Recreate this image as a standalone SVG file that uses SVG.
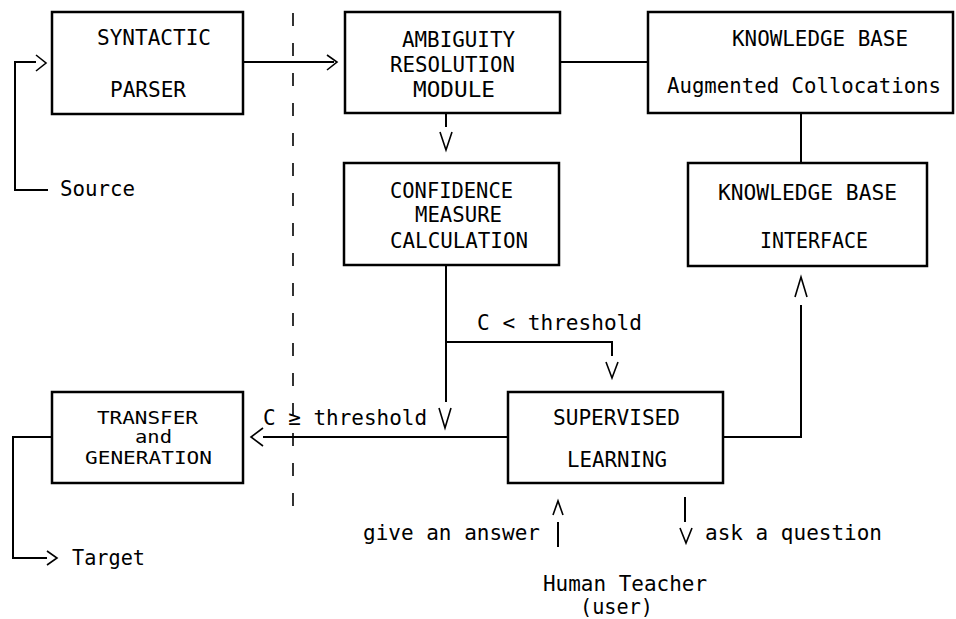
<svg xmlns="http://www.w3.org/2000/svg" width="956" height="619" viewBox="0 0 956 619">
<style>
.box{fill:#fff;stroke:#000;stroke-width:2.5}
.ln{fill:none;stroke:#000;stroke-width:2}
.ah{fill:none;stroke:#000;stroke-width:1.6}
.dash{fill:none;stroke:#000;stroke-width:1.6;stroke-dasharray:13 17}
text{font-family:"DejaVu Sans Mono","Liberation Mono",monospace;font-size:22px;fill:#000}
text.sm{font-size:18px}
text.md{font-size:20.5px}
</style>
<rect width="956" height="619" fill="#fff"/>
<g id="connectors">
  <line class="dash" x1="293" y1="13" x2="293" y2="520"/>
  <polyline class="ln" points="48,190 15,190 15,62 36,62"/>
  <polyline class="ah" points="36,55 46,63 36,71"/>
  <line class="ln" x1="243" y1="62" x2="334" y2="62"/>
  <polyline class="ah" points="327,55 337,62 327,70"/>
  <line class="ln" x1="560" y1="62" x2="648" y2="62"/>
  <line class="ln" x1="446" y1="113" x2="446" y2="127"/>
  <polyline class="ah" points="440,132 446,150 452,132"/>
  <line class="ln" x1="801" y1="113" x2="801" y2="163"/>
  <line class="ln" x1="446" y1="265" x2="446" y2="402"/>
  <polyline class="ah" points="439,408 445,428 451,408"/>
  <polyline class="ln" points="446,342 612,342 612,356"/>
  <polyline class="ah" points="606,362 612,378 618,362"/>
  <line class="ln" x1="263" y1="437" x2="508" y2="437"/>
  <polyline class="ah" points="263,428 251,437 263,446"/>
  <polyline class="ln" points="52,437 13,437 13,558 47,558"/>
  <polyline class="ah" points="47,551 57,558 47,565"/>
  <polyline class="ln" points="723,437 801,437 801,305"/>
  <polyline class="ah" points="795,297 801,277 807,297"/>
  <polyline class="ah" points="553,515 558,501 563,515"/>
  <line class="ln" x1="558" y1="522" x2="558" y2="547"/>
  <line class="ln" x1="685" y1="497" x2="685" y2="522"/>
  <polyline class="ah" points="680,528 686,543 692,528"/>
</g>
<g id="syntactic">
  <rect class="box" x="52" y="12" width="191" height="102"/>
  <text x="97" y="45" textLength="114" lengthAdjust="spacingAndGlyphs">SYNTACTIC</text>
  <text x="110" y="97" textLength="76" lengthAdjust="spacingAndGlyphs">PARSER</text>
</g>
<g id="ambiguity">
  <rect class="box" x="345" y="12" width="215" height="101"/>
  <text x="402" y="47" textLength="113" lengthAdjust="spacingAndGlyphs">AMBIGUITY</text>
  <text x="390" y="72" textLength="125" lengthAdjust="spacingAndGlyphs">RESOLUTION</text>
  <text x="413" y="97" textLength="82" lengthAdjust="spacingAndGlyphs">MODULE</text>
</g>
<g id="knowledge-base">
  <rect class="box" x="648" y="12" width="305" height="101"/>
  <text x="732" y="46" textLength="176" lengthAdjust="spacingAndGlyphs">KNOWLEDGE BASE</text>
  <text class="md" x="667" y="93" textLength="274" lengthAdjust="spacingAndGlyphs">Augmented Collocations</text>
</g>
<g id="confidence">
  <rect class="box" x="344" y="163" width="215" height="102"/>
  <text x="390" y="198" textLength="123" lengthAdjust="spacingAndGlyphs">CONFIDENCE</text>
  <text x="415" y="222" textLength="87" lengthAdjust="spacingAndGlyphs">MEASURE</text>
  <text x="390" y="248" textLength="138" lengthAdjust="spacingAndGlyphs">CALCULATION</text>
</g>
<g id="kb-interface">
  <rect class="box" x="688" y="163" width="239" height="103"/>
  <text x="718" y="200" textLength="179" lengthAdjust="spacingAndGlyphs">KNOWLEDGE BASE</text>
  <text x="760" y="248" textLength="108" lengthAdjust="spacingAndGlyphs">INTERFACE</text>
</g>
<g id="transfer">
  <rect class="box" x="52" y="392" width="191" height="91"/>
  <text class="sm" x="97" y="424" textLength="101" lengthAdjust="spacingAndGlyphs">TRANSFER</text>
  <text class="sm" x="135" y="443" textLength="37" lengthAdjust="spacingAndGlyphs">and</text>
  <text class="sm" x="85" y="464" textLength="127" lengthAdjust="spacingAndGlyphs">GENERATION</text>
</g>
<g id="supervised">
  <rect class="box" x="508" y="392" width="215" height="91"/>
  <text x="553" y="425" textLength="127" lengthAdjust="spacingAndGlyphs">SUPERVISED</text>
  <text x="567" y="467" textLength="100" lengthAdjust="spacingAndGlyphs">LEARNING</text>
</g>
<g id="labels">
  <text x="60" y="196" textLength="75" lengthAdjust="spacingAndGlyphs">Source</text>
  <text x="72" y="565" textLength="73" lengthAdjust="spacingAndGlyphs">Target</text>
  <text x="477" y="330" textLength="165" lengthAdjust="spacingAndGlyphs">C &lt; threshold</text>
  <text x="263" y="425" textLength="164" lengthAdjust="spacingAndGlyphs">C ≥ threshold</text>
  <text x="363" y="540" textLength="177" lengthAdjust="spacingAndGlyphs">give an answer</text>
  <text x="705" y="540" textLength="177" lengthAdjust="spacingAndGlyphs">ask a question</text>
</g>
<g id="human-teacher">
  <text x="543" y="591" textLength="164" lengthAdjust="spacingAndGlyphs">Human Teacher</text>
  <text x="580" y="614" textLength="73" lengthAdjust="spacingAndGlyphs">(user)</text>
</g>
</svg>
